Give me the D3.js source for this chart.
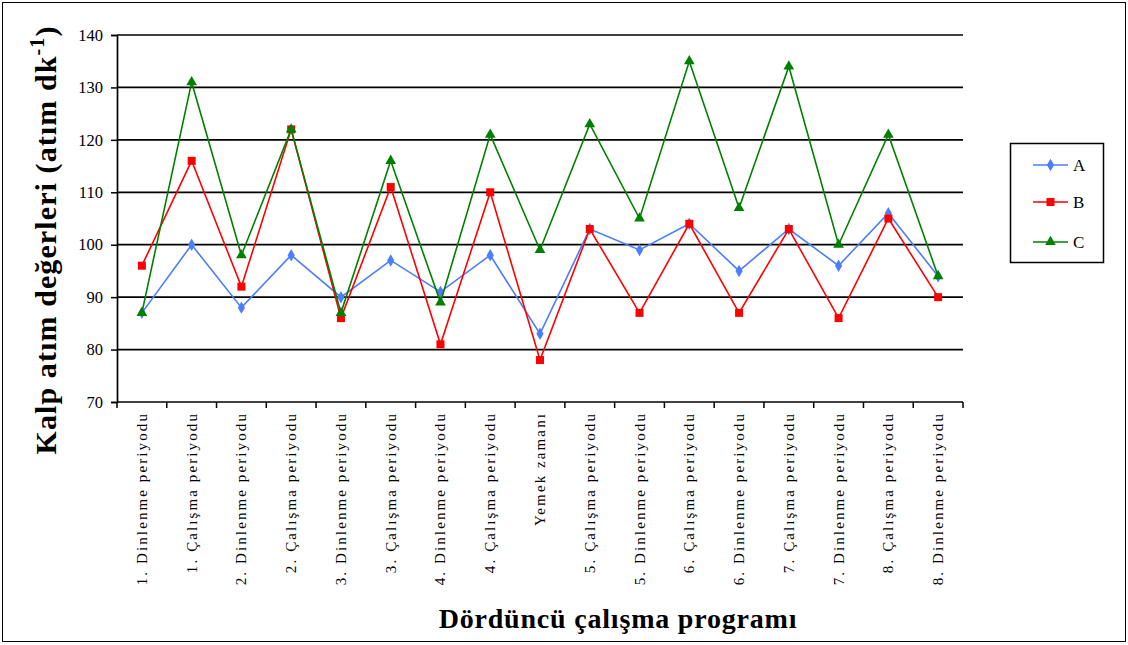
<!DOCTYPE html>
<html>
<head>
<meta charset="utf-8">
<script src="https://cdn.jsdelivr.net/npm/d3@7"></script>
<style>
  html, body { margin: 0; padding: 0; background: #fff; }
  svg { display: block; }
</style>
</head>
<body>
<svg id="chart" width="1128" height="645"></svg>
<script>
// Periods of the fourth working programme
const categories = [
  "1. Dinlenme periyodu", "1. Çalışma periyodu", "2. Dinlenme periyodu", "2. Çalışma periyodu",
  "3. Dinlenme periyodu", "3. Çalışma periyodu", "4. Dinlenme periyodu", "4. Çalışma periyodu",
  "Yemek zamanı", "5. Çalışma periyodu", "5. Dinlenme periyodu", "6. Çalışma periyodu",
  "6. Dinlenme periyodu", "7. Çalışma periyodu", "7. Dinlenme periyodu", "8. Çalışma periyodu",
  "8. Dinlenme periyodu"
];

// Heart rate (beats per minute) per subject
const seriesA = [87, 100, 88, 98, 90, 97, 91, 98, 83, 103, 99, 104, 95, 103, 96, 106, 94];
const seriesB = [96, 116, 92, 122, 86, 111, 81, 110, 78, 103, 87, 104, 87, 103, 86, 105, 90];
const seriesC = [87, 131, 98, 122, 87, 116, 89, 121, 99, 123, 105, 135, 107, 134, 100, 121, 94];

const seriesNames = ["A", "B", "C"];
const yTicks = [70, 80, 90, 100, 110, 120, 130, 140];

const W = 1128, H = 645;
const margin = { left: 117, right: 165, top: 35, bottom: 243 };
const svg = d3.select("#chart");
const serif = "'Liberation Serif', 'Times New Roman', serif";

// Outer frame
svg.append("rect")
  .attr("x", 2.5).attr("y", 2.5).attr("width", W - 5).attr("height", H - 6)
  .attr("fill", "#fff").attr("stroke", "#000").attr("stroke-width", 1);

const x = d3.scaleBand().domain(categories)
  .range([margin.left, W - margin.right]).padding(0);
const y = d3.scaleLinear().domain([70, 140]).range([H - margin.bottom, margin.top]);

// Horizontal gridlines
svg.append("g").selectAll("line")
  .data(yTicks.filter(t => t > 70))
  .join("line")
  .attr("x1", margin.left).attr("x2", W - margin.right)
  .attr("y1", d => y(d)).attr("y2", d => y(d))
  .attr("stroke", "#000").attr("stroke-width", 1.7);

// Y axis
const yAxis = svg.append("g")
  .attr("transform", `translate(${margin.left},0)`)
  .call(d3.axisLeft(y).tickValues(yTicks).tickSize(6).tickPadding(8));
yAxis.attr("font-family", serif);
yAxis.select(".domain").attr("stroke", "#000").attr("stroke-width", 1.7);
yAxis.selectAll(".tick line").attr("stroke", "#000").attr("stroke-width", 1.5);
yAxis.selectAll(".tick text")
  .attr("font-family", serif).attr("font-size", 16.5).attr("fill", "#000");

// X axis: ticks on category boundaries
const xAxisG = svg.append("g").attr("transform", `translate(0,${H - margin.bottom})`);
xAxisG.append("line")
  .attr("x1", margin.left).attr("x2", W - margin.right)
  .attr("stroke", "#000").attr("stroke-width", 1.7);
const bounds = categories.map(c => x(c)).concat([x(categories[categories.length - 1]) + x.bandwidth()]);
xAxisG.selectAll("line.tk").data(bounds).join("line").attr("class", "tk")
  .attr("x1", d => d).attr("x2", d => d).attr("y1", 0).attr("y2", 6)
  .attr("stroke", "#000").attr("stroke-width", 1.5);
xAxisG.selectAll("text").data(categories).join("text")
  .attr("transform", d => `translate(${x(d) + x.bandwidth() / 2 + 5},10) rotate(-90)`)
  .attr("text-anchor", "end")
  .attr("font-family", serif).attr("font-size", 15)
  .attr("letter-spacing", 2.1)
  .attr("fill", "#000")
  .text(d => d);

// Series lines and markers
const cx = (d, i) => x(categories[i]) + x.bandwidth() / 2;
const line = d3.line().x(cx).y(d => y(d));
const series = [
  { name: "A", values: seriesA, color: "#4a7dff", symbol: d3.symbolDiamond, size: 45 },
  { name: "B", values: seriesB, color: "#ff0000", symbol: d3.symbolSquare, size: 64 },
  { name: "C", values: seriesC, color: "#008000", symbol: d3.symbolTriangle, size: 50 }
];

series.forEach(s => {
  const g = svg.append("g");
  g.append("path").datum(s.values)
    .attr("d", line).attr("fill", "none")
    .attr("stroke", s.color).attr("stroke-width", 1.6);
  g.selectAll("path.m").data(s.values).join("path").attr("class", "m")
    .attr("transform", (d, i) => `translate(${cx(d, i)},${y(d)})`)
    .attr("d", d3.symbol().type(s.symbol).size(s.size))
    .attr("fill", s.color);
});

// Legend
const lg = svg.append("g");
lg.append("rect").attr("x", 1010.5).attr("y", 143.5).attr("width", 93).attr("height", 119)
  .attr("fill", "#fff").attr("stroke", "#000").attr("stroke-width", 1.5);
const legendY = [165, 202, 242];
series.forEach((s, i) => {
  const ly = legendY[i];
  lg.append("line").attr("x1", 1033).attr("x2", 1068).attr("y1", ly).attr("y2", ly)
    .attr("stroke", s.color).attr("stroke-width", 1.6);
  lg.append("path").attr("transform", `translate(1050.5,${ly})`)
    .attr("d", d3.symbol().type(s.symbol).size(s.size)).attr("fill", s.color);
  lg.append("text").attr("x", 1073).attr("y", ly + 6)
    .attr("font-family", serif).attr("font-size", 17).attr("fill", "#000")
    .text(seriesNames[i]);
});

// Axis titles
svg.append("text")
  .attr("transform", `translate(56,240) rotate(-90)`)
  .attr("text-anchor", "middle")
  .attr("font-family", serif).attr("font-weight", "bold").attr("font-size", 30)
  .attr("letter-spacing", 1.1)
  .attr("fill", "#000")
  .call(t => {
    t.append("tspan").text("Kalp atım değerleri (atım dk");
    t.append("tspan").attr("dy", -12).attr("font-size", 20).text("-1");
    t.append("tspan").attr("dy", 12).text(")");
  });

svg.append("text")
  .attr("x", 618).attr("y", 628)
  .attr("text-anchor", "middle")
  .attr("font-family", serif).attr("font-weight", "bold").attr("font-size", 28)
  .attr("letter-spacing", 0.8)
  .attr("fill", "#000")
  .text("Dördüncü çalışma programı");
</script>
</body>
</html>
